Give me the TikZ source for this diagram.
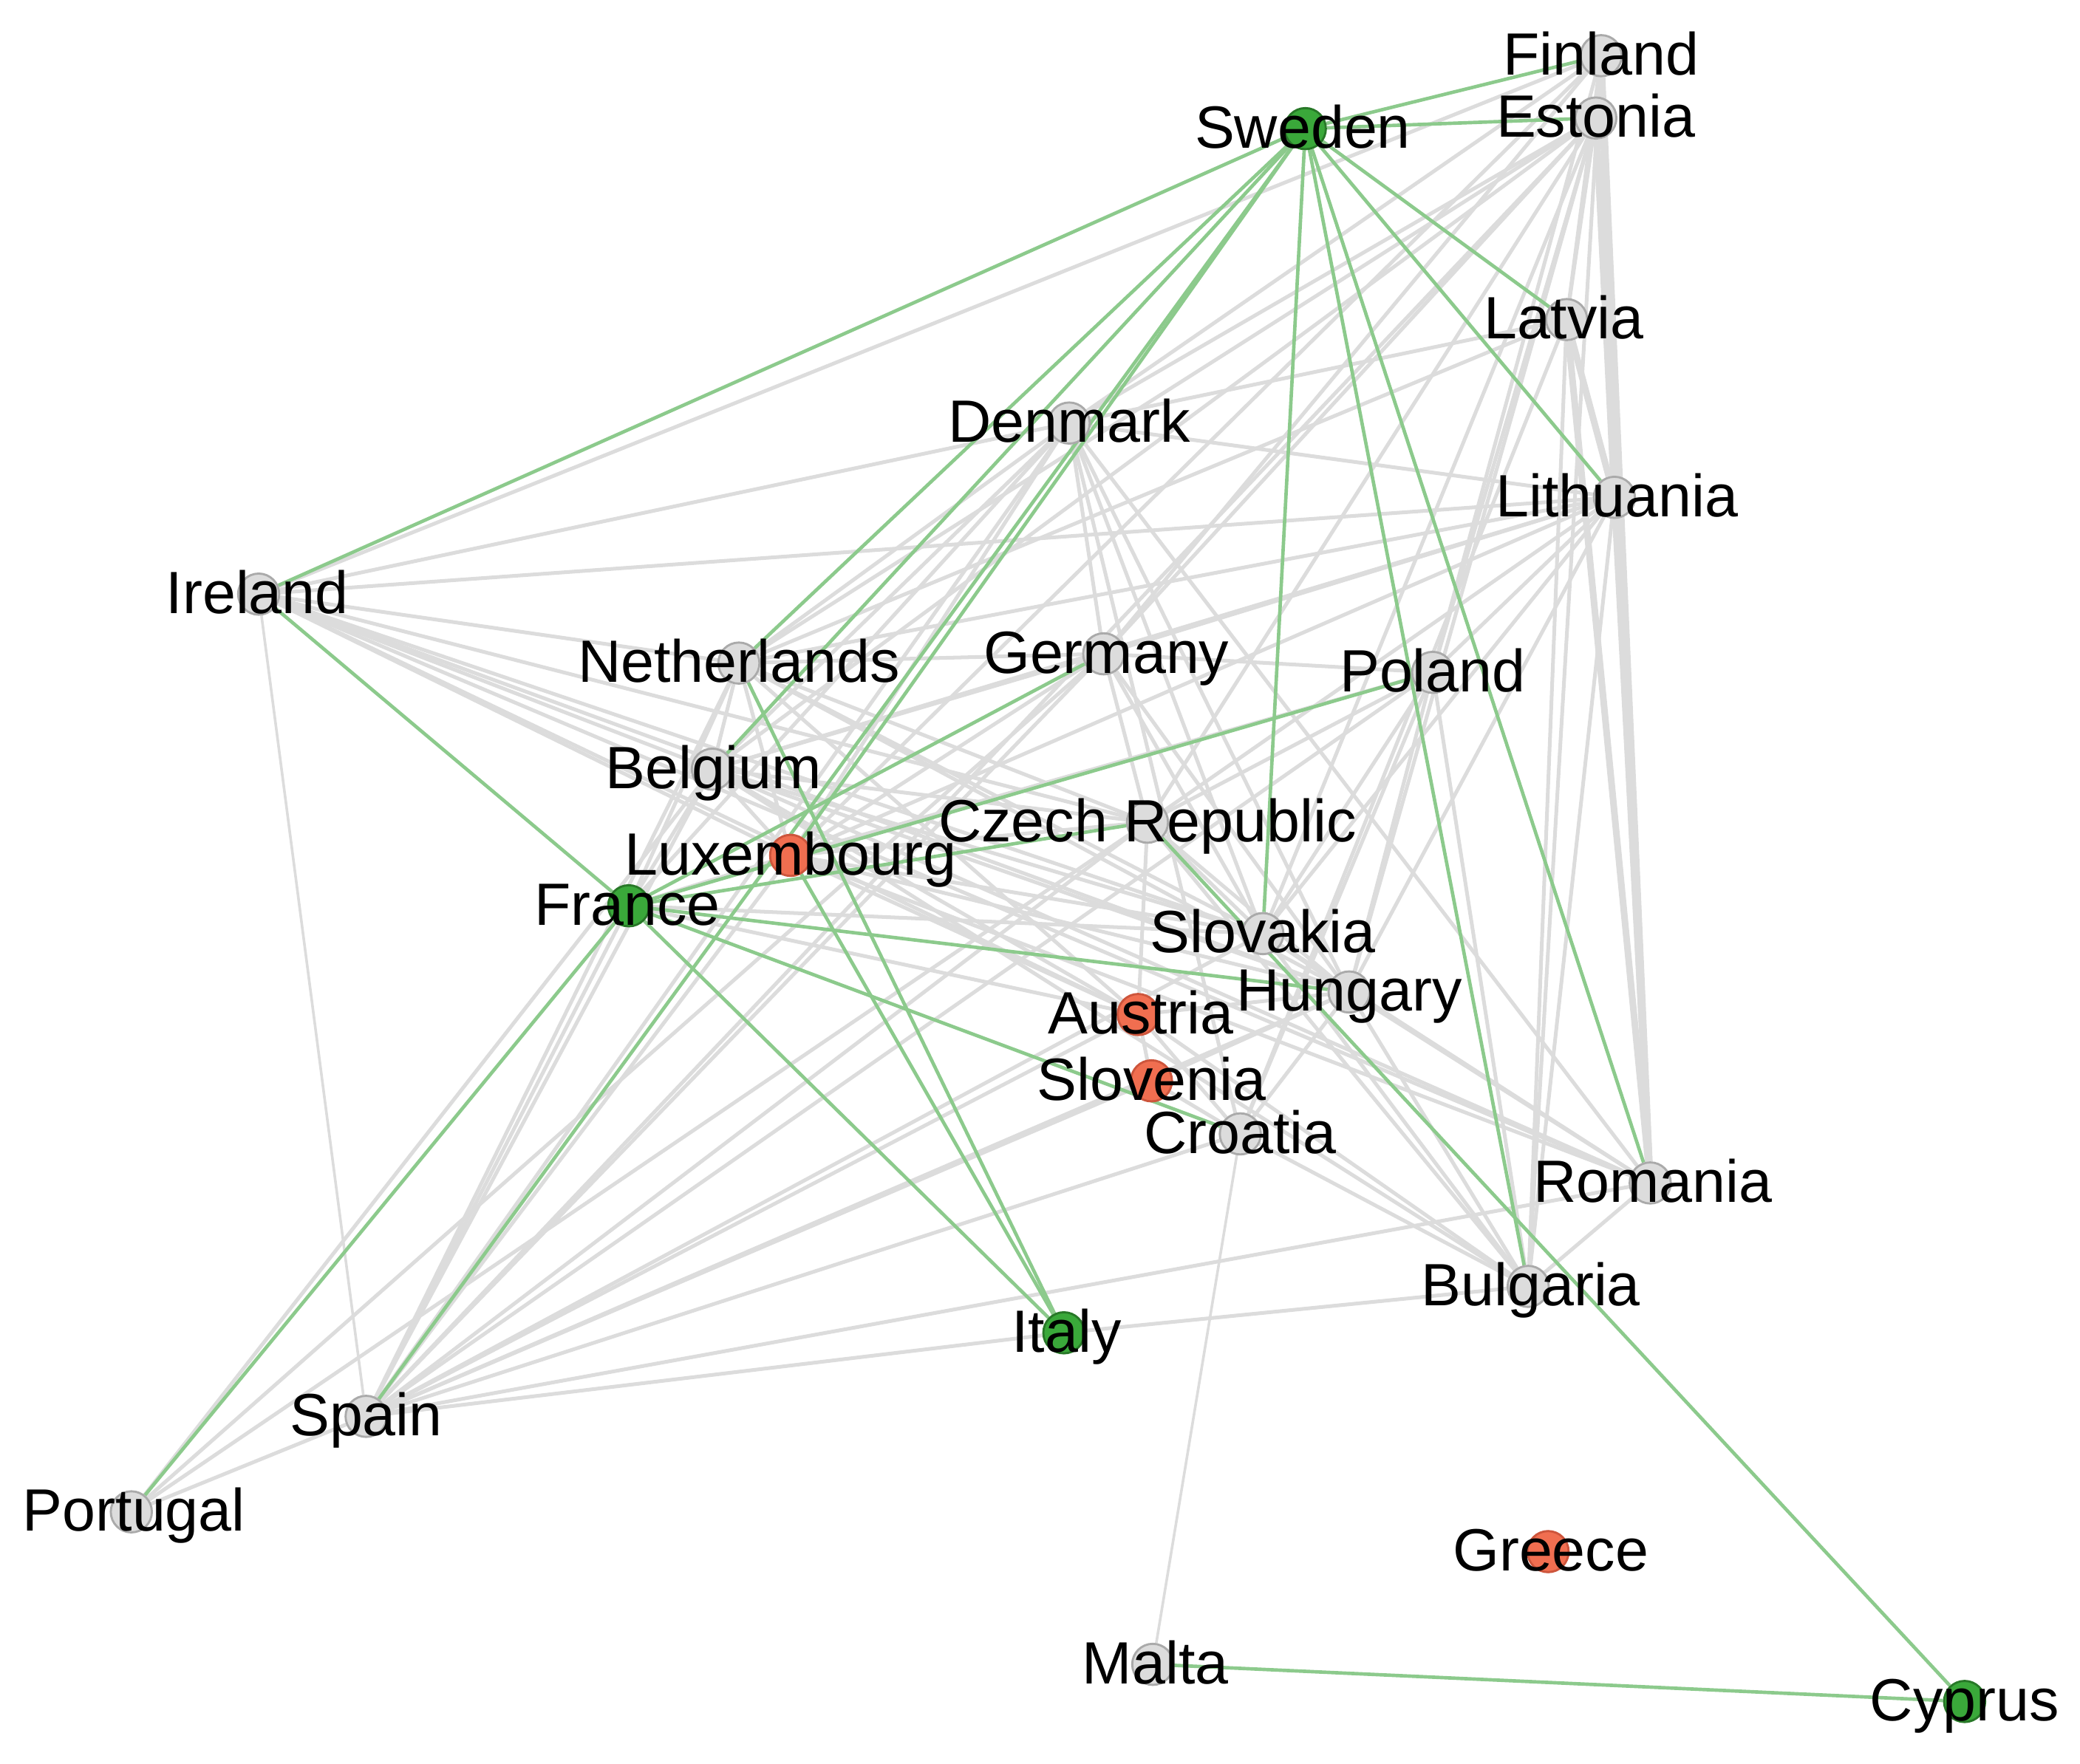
\documentclass[tikz,border=0pt]{standalone}
\usepackage{fontspec}
\setmainfont{Liberation Sans}
\definecolor{edgegrey}{RGB}{220,220,220}
\definecolor{edgegreen}{RGB}{140,202,140}
\definecolor{ngrey}{RGB}{220,220,220}
\definecolor{ngreyb}{RGB}{170,170,170}
\definecolor{ngreen}{RGB}{58,168,58}
\definecolor{ngreenb}{RGB}{40,120,40}
\definecolor{norange}{RGB}{240,110,80}
\definecolor{norangeb}{RGB}{205,85,60}
\pgfdeclarelayer{bg}
\pgfsetlayers{bg,main}
\tikzset{
  cnode/.style={circle,minimum size=31pt,inner sep=0pt,line width=1.6pt},
  gn/.style={cnode,fill=ngrey,draw=ngreyb},
  grn/.style={cnode,fill=ngreen,draw=ngreenb},
  orn/.style={cnode,fill=norange,draw=norangeb},
  gedge/.style={draw=edgegrey,line width=2.8pt},
  gthin/.style={draw=edgegrey,line width=2pt},
  gthick/.style={draw=edgegrey,line width=5pt},
  greenedge/.style={draw=edgegreen,line width=2.6pt},
  lab/.style={anchor=base,inner sep=0pt,text=black,font=\fontsize{45}{54}\selectfont}
}
\begin{document}
\begin{tikzpicture}[x=1pt,y=-1pt]
\useasboundingbox (0,0) rectangle (1568,1330);
% nodes
\node[gn]  (FI) at (1207,42) {};
\node[gn]  (EE) at (1203,89) {};
\node[grn] (SE) at (984,97) {};
\node[gn]  (LV) at (1181,241) {};
\node[gn]  (DK) at (806,319) {};
\node[gn]  (LT) at (1217,375) {};
\node[gn]  (IE) at (195,448) {};
\node[gn]  (NL) at (557,500) {};
\node[gn]  (DE) at (832,493) {};
\node[gn]  (PL) at (1080,507) {};
\node[gn]  (BE) at (537,580) {};
\node[gn]  (CZ) at (865,620) {};
\node[orn] (LU) at (596,645) {};
\node[grn] (FR) at (474,683) {};
\node[gn]  (SK) at (952,704) {};
\node[gn]  (HU) at (1017,748) {};
\node[orn] (AT) at (858,765) {};
\node[orn] (SI) at (868,815) {};
\node[gn]  (HR) at (935,855) {};
\node[gn]  (RO) at (1244,892) {};
\node[gn]  (BG) at (1152,970) {};
\node[grn] (IT) at (802,1005) {};
\node[gn]  (ES) at (276,1068) {};
\node[gn]  (PT) at (99,1140) {};
\node[orn] (GR) at (1167,1170) {};
\node[gn]  (MT) at (869,1255) {};
\node[grn] (CY) at (1481,1283) {};
% edges
\begin{pgfonlayer}{bg}
\foreach \a/\b in {IE/FI,IE/DK,IE/LT,IE/NL,IE/BE,IE/LU,IE/CZ,IE/SK,IE/HU,IE/AT,IE/RO,
  FI/EE,FI/LV,FI/BG,FI/DK,FI/DE,FI/PL,FI/LU,
  EE/LV,EE/DK,EE/NL,EE/BE,EE/DE,EE/CZ,EE/PL,EE/SK,EE/ES,EE/HU,
  LV/BG,LV/DK,LV/HR,LV/NL,
  LT/BG,LT/DK,LT/NL,LT/BE,LT/LU,LT/CZ,LT/PL,LT/SK,LT/HU,LT/DE,
  DK/NL,DK/BE,DK/LU,DK/FR,DK/ES,DK/SK,DK/HU,DK/HR,DK/RO,DK/DE,
  NL/BE,NL/LU,NL/FR,NL/ES,NL/CZ,NL/SK,NL/AT,NL/HU,
  BE/LU,BE/FR,BE/ES,BE/PT,BE/CZ,BE/SK,BE/HU,BE/AT,BE/RO,BE/DE,BE/BG,
  DE/PL,DE/CZ,DE/SK,DE/HU,DE/LU,DE/ES,DE/PT,DE/NL,
  CZ/PL,CZ/SK,CZ/HU,CZ/AT,CZ/ES,CZ/PT,CZ/LU,CZ/BG,
  PL/SK,PL/HU,PL/ES,PL/BG,PL/LU,PL/HR,
  LU/SK,LU/AT,LU/HU,LU/RO,LU/ES,LU/FR,
  FR/ES,FR/SK,FR/AT,
  SK/HU,SK/BG,SK/RO,SK/ES,
  HU/RO,HU/BG,HU/HR,HU/AT,HU/SI,HU/ES,
  AT/HR,AT/BG,AT/ES,AT/SI,
  SI/ES,SI/HR,
  HR/BG,HR/ES,
  RO/BG,RO/ES,
  BG/IT,IT/ES,ES/PT}
  \draw[gedge] (\a) -- (\b);
\foreach \a/\b in {IE/ES,HR/MT}
  \draw[gthin] (\a) -- (\b);
\foreach \a/\b in {LT/RO,EE/RO,FI/RO,LV/RO,EE/LT,FI/LT,LV/LT}
  \draw[gthick] (\a) -- (\b);
\foreach \a/\b in {SE/FI,SE/EE,SE/LV,SE/LT,SE/RO,SE/BG,SE/SK,SE/IE,SE/NL,SE/BE,SE/LU,SE/ES,
  IE/FR,FR/PT,FR/DE,FR/CZ,FR/PL,FR/HU,FR/HR,FR/IT,NL/IT,LU/IT,CZ/CY,MT/CY}
  \draw[greenedge] (\a) -- (\b);
\end{pgfonlayer}
% labels
\path (FI) ++(0,14.5) node[lab] (FI-l) {Finland};
\path (EE) ++(0,14.5) node[lab] (EE-l) {Estonia};
\path (SE) ++(-2,14.5) node[lab] (SE-l) {Sweden};
\path (LV) ++(-2,14.5) node[lab] (LV-l) {Latvia};
\path (DK) ++(0,14.5) node[lab] (DK-l) {Denmark};
\path (LT) ++(2,14.5) node[lab] (LT-l) {Lithuania};
\path (IE) ++(-1,14.5) node[lab] (IE-l) {Ireland};
\path (NL) ++(0,14.5) node[lab] (NL-l) {Netherlands};
\path (DE) ++(2,14.5) node[lab] (DE-l) {Germany};
\path (PL) ++(0,14.5) node[lab] (PL-l) {Poland};
\path (BE) ++(1,14.5) node[lab] (BE-l) {Belgium};
\path (CZ) ++(0,14.5) node[lab] (CZ-l) {Czech Republic};
\path (LU) ++(0,14.5) node[lab] (LU-l) {Luxembourg};
\path (FR) ++(-1,14.5) node[lab] (FR-l) {France};
\path (SK) ++(0,14.5) node[lab] (SK-l) {Slovakia};
\path (HU) ++(0,14.5) node[lab] (HU-l) {Hungary};
\path (AT) ++(2,14.5) node[lab] (AT-l) {Austria};
\path (SI) ++(0,14.5) node[lab] (SI-l) {Slovenia};
\path (HR) ++(0,14.5) node[lab] (HR-l) {Croatia};
\path (RO) ++(2,14.5) node[lab] (RO-l) {Romania};
\path (BG) ++(2,14.5) node[lab] (BG-l) {Bulgaria};
\path (IT) ++(2,14.5) node[lab] (IT-l) {Italy};
\path (ES) ++(0,14.5) node[lab] (ES-l) {Spain};
\path (PT) ++(2,14.5) node[lab] (PT-l) {Portugal};
\path (GR) ++(2,14.5) node[lab] (GR-l) {Greece};
\path (MT) ++(2,14.5) node[lab] (MT-l) {Malta};
\path (CY) ++(0,14.5) node[lab] (CY-l) {Cyprus};
\end{tikzpicture}
\end{document}
